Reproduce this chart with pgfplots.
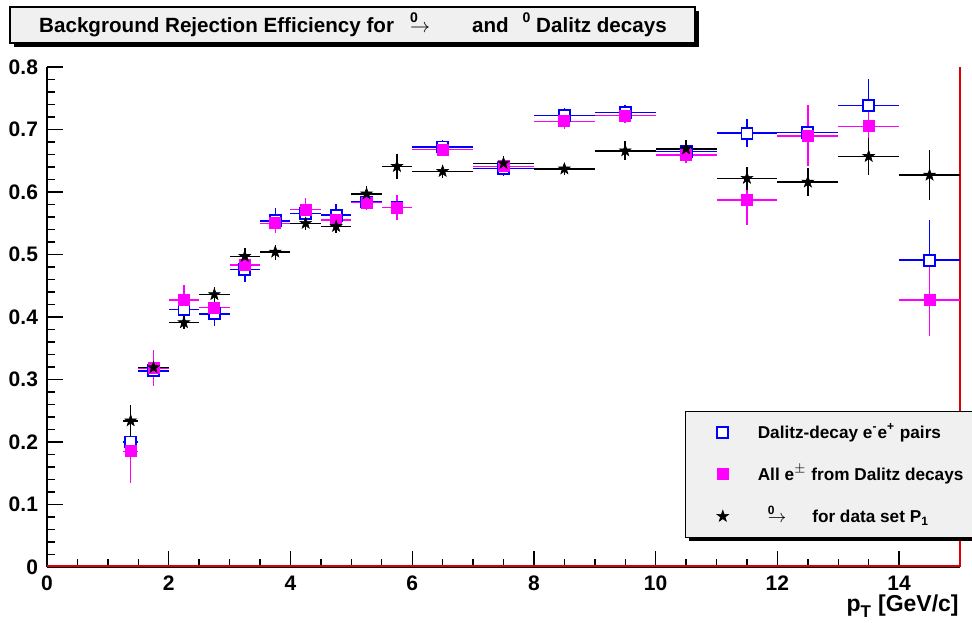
\documentclass[border=0pt]{standalone}
\usepackage{fontspec}
\setmainfont{Liberation Sans}
\usepackage{pgfplots}
\usepackage{pgfplotstable}
\pgfplotsset{compat=1.18}
\definecolor{boxgray}{RGB}{240,240,240}
\definecolor{rootblue}{RGB}{0,0,255}
\definecolor{rootmag}{RGB}{255,0,255}
\definecolor{rootred}{RGB}{220,0,0}

\pgfdeclareplotmark{fstar}{%
 \pgfpathmoveto{\pgfpointpolar{90}{\pgfplotmarksize}}%
 \pgfpathlineto{\pgfpointpolar{126}{0.4\pgfplotmarksize}}%
 \pgfpathlineto{\pgfpointpolar{162}{\pgfplotmarksize}}%
 \pgfpathlineto{\pgfpointpolar{198}{0.4\pgfplotmarksize}}%
 \pgfpathlineto{\pgfpointpolar{234}{\pgfplotmarksize}}%
 \pgfpathlineto{\pgfpointpolar{270}{0.4\pgfplotmarksize}}%
 \pgfpathlineto{\pgfpointpolar{306}{\pgfplotmarksize}}%
 \pgfpathlineto{\pgfpointpolar{342}{0.4\pgfplotmarksize}}%
 \pgfpathlineto{\pgfpointpolar{18}{\pgfplotmarksize}}%
 \pgfpathlineto{\pgfpointpolar{54}{0.4\pgfplotmarksize}}%
 \pgfpathclose
 \pgfusepathqfillstroke
}

\pgfplotstableread{
x y ex ey
1.375 0.200 0.125 0.020
1.75 0.314 0.25 0.015
2.25 0.412 0.25 0.020
2.75 0.405 0.25 0.020
3.25 0.476 0.25 0.020
3.75 0.554 0.25 0.020
4.25 0.566 0.25 0.018
4.75 0.563 0.25 0.018
5.25 0.584 0.25 0.012
5.75 0.575 0.25 0.015
6.5 0.672 0.5 0.012
7.5 0.638 0.5 0.012
8.5 0.722 0.5 0.012
9.5 0.727 0.5 0.012
10.5 0.665 0.5 0.012
11.5 0.694 0.5 0.022
12.5 0.695 0.5 0.020
13.5 0.738 0.5 0.043
14.5 0.491 0.5 0.064
}\bluedata

\pgfplotstableread{
x y ex ey
1.375 0.185 0.125 0.050
1.75 0.318 0.25 0.029
2.25 0.427 0.25 0.025
2.75 0.415 0.25 0.020
3.25 0.483 0.25 0.015
3.75 0.550 0.25 0.015
4.25 0.572 0.25 0.018
4.75 0.555 0.25 0.015
5.25 0.583 0.25 0.012
5.75 0.575 0.25 0.020
6.5 0.668 0.5 0.010
7.5 0.641 0.5 0.010
8.5 0.713 0.5 0.012
9.5 0.722 0.5 0.012
10.5 0.659 0.5 0.012
11.5 0.587 0.5 0.040
12.5 0.690 0.5 0.049
13.5 0.705 0.5 0.030
14.5 0.427 0.5 0.058
}\magdata

\pgfplotstableread{
x y ex ey
1.375 0.234 0.125 0.025
1.75 0.319 0.25 0.010
2.25 0.391 0.25 0.010
2.75 0.436 0.25 0.012
3.25 0.497 0.25 0.013
3.75 0.504 0.25 0.012
4.25 0.550 0.25 0.010
4.75 0.545 0.25 0.010
5.25 0.597 0.25 0.012
5.75 0.641 0.25 0.020
6.5 0.633 0.5 0.010
7.5 0.646 0.5 0.012
8.5 0.637 0.5 0.010
9.5 0.666 0.5 0.015
10.5 0.669 0.5 0.015
11.5 0.622 0.5 0.018
12.5 0.616 0.5 0.022
13.5 0.657 0.5 0.029
14.5 0.627 0.5 0.040
}\stardata

\begin{document}
\begin{tikzpicture}
\useasboundingbox (0,0) rectangle (486pt,311pt);
% title box
\fill[black] (7pt,287.5pt) rectangle (349.5pt,305.5pt);
\draw[fill=boxgray,line width=0.6pt] (5pt,289.5pt) rectangle (347.5pt,307.5pt);
\node[font=\bfseries\fontsize{10.3}{12}\selectfont, anchor=base] at (176.5pt,294.5pt)
 {Background Rejection Efficiency for\hspace{8pt}\rlap{\raisebox{5pt}{\fontsize{7}{7}\selectfont 0}}$\rightarrow$\hspace{21pt}and\hspace{7pt}\raisebox{5pt}{\fontsize{7}{7}\selectfont 0} Dalitz decays};
\begin{axis}[
 at={(23.5pt,27.5pt)}, anchor=south west,
 scale only axis, width=456.5pt, height=250pt,
 xmin=0, xmax=15, ymin=0, ymax=0.8,
 clip=false,
 axis lines*=left,
 axis line style={-, line width=1pt},
 tick align=inside,
 major tick length=8pt, minor tick length=4pt,
 every tick/.style={black, line width=0.7pt},
 xtick={0,2,4,6,8,10,12,14},
 xticklabels={0,2,4,6,8,10,12,14},
 minor x tick num=3,
 ytick={0,0.1,0.2,0.3,0.4,0.5,0.6,0.7,0.8},
 yticklabels={0,0.1,0.2,0.3,0.4,0.5,0.6,0.7,0.8},
 minor y tick num=4,
 tick label style={font=\bfseries\fontsize{10.5}{12}\selectfont},
 xticklabel style={yshift=-1pt},
 yticklabel style={xshift=-1pt},
 xlabel={p\raisebox{-3pt}{\fontsize{8.5}{9}\selectfont T}\hspace{3.5pt}[GeV/c]},
 xlabel style={at={(rel axis cs:1,0)}, anchor=north east, yshift=-13.5pt, xshift=-0.5pt, inner sep=0pt, font=\bfseries\fontsize{11.5}{12}\selectfont},
 legend image code/.code={\path[draw=none,fill=none] (0pt,-2pt) rectangle (27pt,2pt); \path[mark repeat=2,mark phase=2,#1,draw=none] plot coordinates {(0pt,0pt) (13.5pt,0pt) (27pt,0pt)};},
 legend style={at={(0.699,0.3126)}, anchor=north west,
   draw=black, fill=boxgray, line width=0.6pt,
   font=\bfseries\fontsize{8.6}{10}\selectfont,
   inner xsep=5pt, inner ysep=0pt, column sep=4pt,
   nodes={inner sep=0pt, minimum height=21pt}},
 legend cell align=left,
]
\addplot[rootred, line width=0.8pt, forget plot] coordinates {(0,0.0015) (15,0.0015)};
\addplot[rootred, line width=1pt, forget plot] coordinates {(15,0) (15,0.8)};
\fill[black] ([xshift=2pt,yshift=-2pt]rel axis cs:0.699,0.06) rectangle ([xshift=2pt,yshift=-2pt]rel axis cs:1.0099,0.3126);
\addplot[only marks, color=rootblue, mark=square*, mark size=2.75pt,
  mark options={fill=white, line width=0.9pt},
  error bars/.cd, x dir=both, x explicit, y dir=both, y explicit, error mark=none,
  error bar style={rootblue, line width=0.75pt}]
  table[x=x, y=y, x error=ex, y error=ey] {\bluedata};
\addplot[only marks, color=rootmag, mark=square*, mark size=2.75pt,
  mark options={fill=rootmag, line width=0.4pt},
  error bars/.cd, x dir=both, x explicit, y dir=both, y explicit, error mark=none,
  error bar style={rootmag, line width=0.75pt}]
  table[x=x, y=y, x error=ex, y error=ey] {\magdata};
\addplot[only marks, color=black, mark=fstar, mark size=3pt,
  mark options={fill=black, line width=0.3pt},
  error bars/.cd, x dir=both, x explicit, y dir=both, y explicit, error mark=none,
  error bar style={black, line width=0.75pt}]
  table[x=x, y=y, x error=ex, y error=ey] {\stardata};
\legend{Dalitz-decay e\textsuperscript{-}e\textsuperscript{+} pairs,
 All e$^{\pm}$ from Dalitz decays,
 \hspace{5pt}\rlap{\raisebox{4pt}{\fontsize{6}{6}\selectfont 0}}$\rightarrow$\hspace{13pt}for data set P\textsubscript{1}}
\end{axis}
\end{tikzpicture}
\end{document}
